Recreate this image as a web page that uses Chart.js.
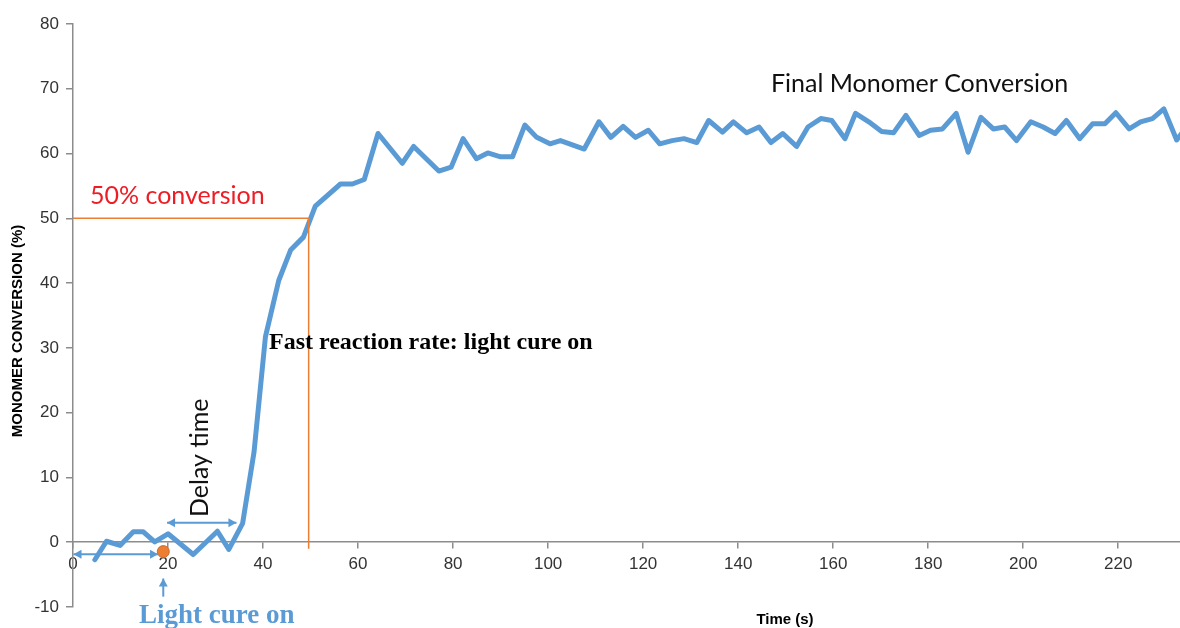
<!DOCTYPE html>
<html>
<head>
<meta charset="utf-8">
<title>Monomer conversion vs time</title>
<script src="https://cdn.jsdelivr.net/npm/chart.js@4.4.1/dist/chart.umd.min.js"></script>
<style>
  html, body { margin: 0; padding: 0; background: #ffffff; }
  #wrap { width: 1180px; height: 628px; position: relative; }
</style>
</head>
<body>
<div id="wrap"><canvas id="chart"></canvas></div>
<script>
// Measured monomer conversion (%) against time (s)
const timeSeconds = [
  4.6, 7.05, 9.9, 12.7, 14.8, 17.2, 20.0, 25.3, 30.4, 32.8,
  35.7, 38.1, 40.5, 43.3, 45.8, 48.5, 51.0, 56.3, 58.8, 61.3,
  64.2, 69.3, 71.7, 77.0, 79.6, 82.1, 84.9, 87.3, 90.0, 92.5,
  95.1, 97.6, 100.4, 102.6, 107.6, 110.7, 113.2, 115.8, 118.4, 121.1,
  123.5, 126.1, 128.6, 131.3, 133.8, 136.7, 139.0, 141.8, 144.4, 146.9,
  149.4, 152.3, 154.7, 157.4, 159.7, 162.5, 164.7, 167.5, 170.2, 172.7,
  175.3, 178.1, 180.5, 183.0, 185.9, 188.4, 191.1, 193.7, 196.1, 198.6,
  201.6, 204.2, 206.7, 209.1, 211.9, 214.6, 217.2, 219.5, 222.3, 224.7,
  227.2, 229.6, 232.3, 234.8
];
const conversionPct = [
  -2.7, 0.15, -0.5, 1.6, 1.6, 0.05, 1.3, -1.9, 1.7, -1.1,
  2.9, 13.9, 31.7, 40.4, 45.1, 47.1, 51.9, 55.3, 55.3, 56.0,
  63.1, 58.5, 61.1, 57.3, 57.9, 62.3, 59.2, 60.1, 59.5, 59.5,
  64.4, 62.5, 61.5, 62.0, 60.7, 64.9, 62.5, 64.2, 62.5, 63.6,
  61.5, 62.0, 62.3, 61.7, 65.1, 63.3, 64.9, 63.2, 64.1, 61.7,
  63.1, 61.1, 64.1, 65.4, 65.1, 62.3, 66.2, 64.9, 63.4, 63.2,
  65.9, 62.8, 63.6, 63.8, 66.2, 60.2, 65.6, 63.8, 64.1, 62.0,
  64.9, 64.1, 63.1, 65.1, 62.3, 64.6, 64.6, 66.3, 63.8, 64.9,
  65.4, 66.9, 62.1, 64.5
];

// Axis tick values
const xTickValues = [0, 20, 40, 60, 80, 100, 120, 140, 160, 180, 200, 220];
const yTickValues = [-10, 0, 10, 20, 30, 40, 50, 60, 70, 80];

// 50 % conversion reference and the moment the light is switched on
const halfConversion = 50;
const halfConversionTime = 49.6;
const lightOnTime = 19.0;
const lightOnMarker = -1.45;

const BLUE = '#5b9bd5';
const ORANGE = '#ed7d31';
const AXIS_GREY = '#8c8c8c';

const seriesPoints = timeSeconds.map((t, i) => ({ x: t, y: conversionPct[i] }));

// Text and arrow annotations, placed in data coordinates
const annotations = {
  arrows: [
    { from: [0.1, -1.85], to: [17.9, -1.85], both: true },
    { from: [19.8, 3.0], to: [34.4, 3.0], both: true },
    { from: [lightOnTime, -8.4], to: [lightOnTime, -5.6], both: false }
  ]
};

function drawArrowHead(ctx, x0, y0, x1, y1) {
  const len = 8, half = 4.5;
  const a = Math.atan2(y1 - y0, x1 - x0);
  const c = Math.cos(a), s = Math.sin(a);
  ctx.beginPath();
  ctx.moveTo(x1, y1);
  ctx.lineTo(x1 - len * c + half * s, y1 - len * s - half * c);
  ctx.lineTo(x1 - len * c - half * s, y1 - len * s + half * c);
  ctx.closePath();
  ctx.fill();
}

const annotationPlugin = {
  id: 'conversionNotes',
  afterDraw(chart) {
    const { ctx } = chart;
    const xs = chart.scales.x, ys = chart.scales.y;
    ctx.save();

    // arrows
    ctx.strokeStyle = BLUE;
    ctx.fillStyle = BLUE;
    ctx.lineWidth = 2;
    annotations.arrows.forEach(a => {
      const x0 = xs.getPixelForValue(a.from[0]), y0 = ys.getPixelForValue(a.from[1]);
      const x1 = xs.getPixelForValue(a.to[0]), y1 = ys.getPixelForValue(a.to[1]);
      ctx.beginPath();
      ctx.moveTo(x0, y0);
      ctx.lineTo(x1, y1);
      ctx.stroke();
      drawArrowHead(ctx, x0, y0, x1, y1);
      if (a.both) drawArrowHead(ctx, x1, y1, x0, y0);
    });

    ctx.textAlign = 'left';
    ctx.textBaseline = 'alphabetic';

    ctx.fillStyle = '#ee1c25';
    ctx.font = '25px Lato';
    ctx.fillText('50% conversion', 90, 204);

    ctx.fillStyle = '#111111';
    ctx.font = '25px Lato';
    ctx.fillText('Final Monomer Conversion', 771, 92);

    ctx.fillStyle = '#000000';
    ctx.font = 'bold 24px "Liberation Serif"';
    ctx.fillText('Fast reaction rate: light cure on', 269, 349);

    ctx.fillStyle = BLUE;
    ctx.font = 'bold 27px "Liberation Serif"';
    ctx.fillText('Light cure on', 139, 623);

    // rotated label for the delay between light on and reaction onset
    ctx.save();
    ctx.translate(208, 517);
    ctx.rotate(-Math.PI / 2);
    ctx.fillStyle = '#111111';
    ctx.font = '25px Lato';
    ctx.fillText('Delay time', 0, 0);
    ctx.restore();

    // axis titles
    ctx.fillStyle = '#000000';
    ctx.font = 'bold 15px "Liberation Sans"';
    ctx.textAlign = 'center';
    ctx.textBaseline = 'middle';
    ctx.fillText('Time (s)', 785, 620);
    ctx.save();
    ctx.translate(18, 331);
    ctx.rotate(-Math.PI / 2);
    ctx.fillText('MONOMER CONVERSION (%)', 0, 0);
    ctx.restore();

    ctx.restore();
  }
};

Chart.defaults.font.family = '"Liberation Sans", Arial, sans-serif';

new Chart(document.getElementById('chart'), {
  type: 'line',
  data: {
    datasets: [
      {
        label: 'Light on',
        type: 'scatter',
        data: [{ x: lightOnTime, y: lightOnMarker }],
        pointRadius: 6,
        pointBackgroundColor: ORANGE,
        pointBorderColor: '#c86a2c',
        pointBorderWidth: 1,
        showLine: false
      },
      {
        label: '50% level',
        data: [{ x: 0, y: halfConversion }, { x: halfConversionTime, y: halfConversion }],
        borderColor: ORANGE,
        borderWidth: 1.5,
        pointRadius: 0
      },
      {
        label: '50% time',
        data: [{ x: halfConversionTime, y: halfConversion }, { x: halfConversionTime, y: -1 }],
        borderColor: ORANGE,
        borderWidth: 1.5,
        pointRadius: 0
      },
      {
        label: 'Monomer conversion',
        data: seriesPoints,
        borderColor: BLUE,
        borderWidth: 5,
        borderJoinStyle: 'round',
        borderCapStyle: 'round',
        pointRadius: 0,
        tension: 0
      }
    ]
  },
  options: {
    responsive: true,
    maintainAspectRatio: false,
    animation: false,
    devicePixelRatio: 1,
    layout: { autoPadding: false, padding: { top: 24, right: 0, bottom: 21, left: 0 } },
    plugins: { legend: { display: false }, tooltip: { enabled: false } },
    scales: {
      x: {
        type: 'linear',
        position: { y: 0 },
        min: 0,
        max: 233,
        afterBuildTicks: s => { s.ticks = xTickValues.map(v => ({ value: v })); },
        afterFit: s => { s.height = 0; s.paddingLeft = 0; s.paddingRight = 0; },
        ticks: { color: '#333333', font: { size: 17 }, padding: 6, maxRotation: 0, autoSkip: false },
        grid: { drawOnChartArea: false, drawTicks: true, tickLength: 6, color: AXIS_GREY, lineWidth: 1.5 },
        border: { color: AXIS_GREY, width: 1.5 }
      },
      y: {
        type: 'linear',
        min: -10,
        max: 80,
        afterBuildTicks: s => { s.ticks = yTickValues.map(v => ({ value: v })); },
        afterFit: s => { s.width = 73; },
        ticks: { color: '#333333', font: { size: 17 }, padding: 7 },
        grid: { drawOnChartArea: false, drawTicks: true, tickLength: 7, color: AXIS_GREY, lineWidth: 1.5 },
        border: { color: AXIS_GREY, width: 1.5 }
      }
    }
  },
  plugins: [annotationPlugin]
});
</script>
</body>
</html>
